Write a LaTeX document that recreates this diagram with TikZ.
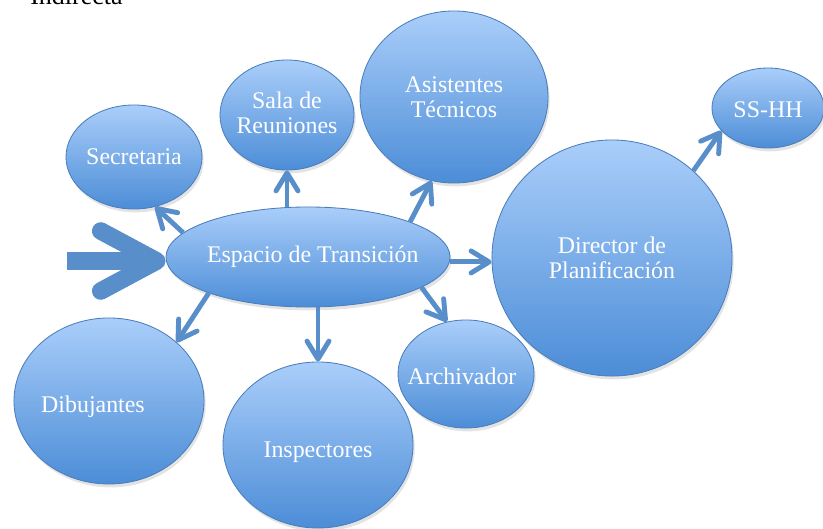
\documentclass[tikz,border=0pt]{standalone}
\usepackage{fontspec}
\setmainfont{Liberation Serif}
\usepackage{tikz}
\usetikzlibrary{shapes.geometric, arrows.meta, shadows}
\definecolor{mytop}{RGB}{170,206,250}
\definecolor{mybot}{RGB}{76,141,215}
\definecolor{myedge}{RGB}{74,126,187}
\definecolor{myarrow}{RGB}{88,143,203}
\tikzset{
  bubble/.style={ellipse, draw=myedge, top color=mytop, bottom color=mybot,
    line width=0.6pt, inner sep=0pt,
    drop shadow={opacity=0.22, shadow xshift=1.2pt, shadow yshift=-2.4pt}},
  txt/.style={text=white, align=center, inner sep=0pt,
    font=\fontsize{17}{17.7}\selectfont},
  arrow/.style={myarrow, line width=3.5pt,
    -{Straight Barb[length=4.5mm, width=5.5mm, round]}},
  bigarrow/.style={myarrow, line width=12.5pt,
    -{Straight Barb[length=14mm, width=15mm, round]}}
}

\begin{document}
\begin{tikzpicture}[x=0.025cm, y=0.025cm]
  \useasboundingbox (0,0) rectangle (823,528);

  % Heading (cut at the top)
  \node[anchor=base west, inner sep=0pt, font=\fontsize{18.5}{20}\selectfont] (titulo) at (30,523) {Indirecta};

  % Central space
  \node[bubble, minimum width=7.1cm, minimum height=2.5cm,
    label={[txt, xshift=0.12cm]center:Espacio de Transición}] (esp) at (308,271) {};

  % Rooms around it
  \node[bubble, minimum width=3.4cm, minimum height=2.6cm,
    label={[txt]center:Secretaria}] (secr) at (134,371) {};
  \node[bubble, minimum width=3.35cm, minimum height=2.75cm,
    label={[txt, yshift=0.05cm]center:Sala de\\Reuniones}] (sala) at (287,413) {};
  \node[bubble, minimum width=4.7cm, minimum height=4.3cm,
    label={[txt]center:Asistentes\\Técnicos}] (asis) at (454,431) {};
  \node[bubble, minimum width=2.8cm, minimum height=2.0cm,
    label={[txt, yshift=-0.05cm]center:SS-HH}] (sshh) at (768,420) {};
  \node[bubble, minimum width=6.0cm, minimum height=5.9cm,
    label={[txt]center:Director de\\Planificación}] (dir) at (612,270) {};
  \node[bubble, minimum width=4.75cm, minimum height=4.15cm,
    label={[txt, xshift=-0.4cm, yshift=-0.15cm]center:Dibujantes}] (dib) at (109,127) {};
  \node[bubble, minimum width=4.75cm, minimum height=4.15cm,
    label={[txt, yshift=-0.17cm]center:Inspectores}] (insp) at (318,83) {};
  \node[bubble, minimum width=3.4cm, minimum height=2.7cm,
    label={[txt, xshift=-0.1cm, yshift=-0.07cm]center:Archivador}] (arch) at (466,154) {};

  % Entrance
  \coordinate (entrada) at (67,267);
  \draw[bigarrow] (entrada) -- (entrada -| esp.west);

  % Connections
  \draw[arrow] (esp.169) -- (secr.293);
  \draw[arrow] (esp.north -| sala.south) -- (sala.south);
  \draw[arrow] (esp.19) -- (asis.255);
  \draw[arrow] (esp.358) -- (esp.358 -| dir.west);
  \draw[arrow] (esp.345) -- (arch.110);
  \draw[arrow] (esp.south -| insp.north) -- (insp.north);
  \draw[arrow] (esp.200) -- (dib.41);
  \draw[arrow] (dir.47) -- (sshh.206);
\end{tikzpicture}
\end{document}
